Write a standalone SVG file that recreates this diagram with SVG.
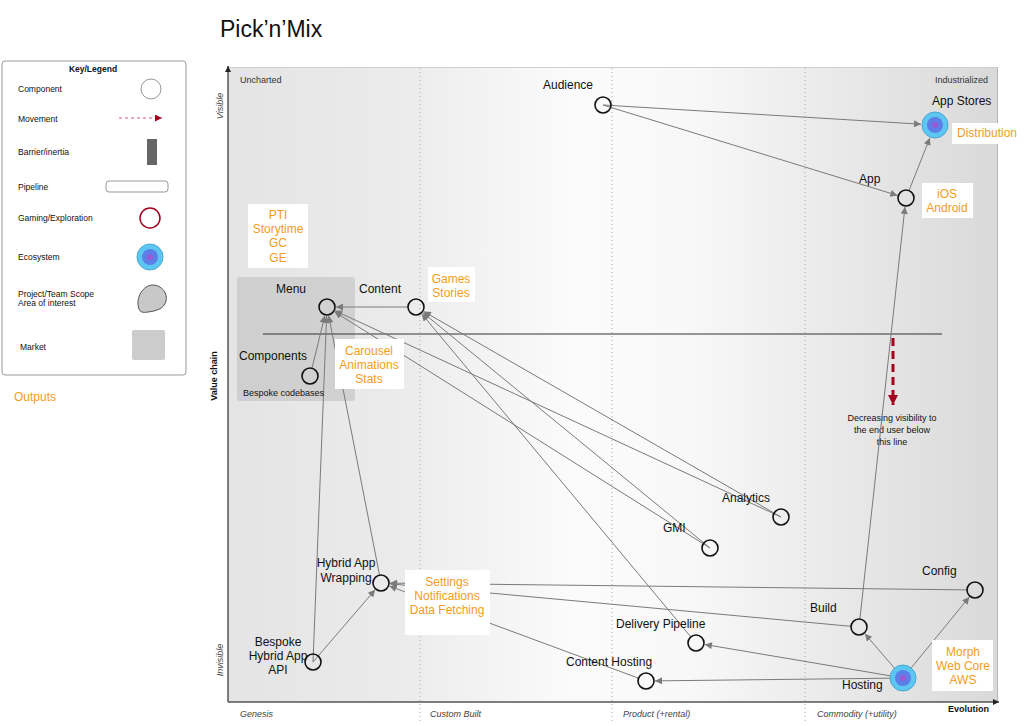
<svg xmlns="http://www.w3.org/2000/svg" width="1024" height="726" viewBox="0 0 1024 726">
<defs>
<linearGradient id="bg" x1="0" y1="0" x2="1" y2="0">
<stop offset="0" stop-color="#e4e4e4"/>
<stop offset="0.22" stop-color="#ebebeb"/>
<stop offset="0.45" stop-color="#fbfbfb"/>
<stop offset="0.6" stop-color="#f8f8f8"/>
<stop offset="1" stop-color="#d9d9d9"/>
</linearGradient>
<marker id="ah" viewBox="0 0 10 10" refX="10" refY="5" markerUnits="userSpaceOnUse" markerWidth="9" markerHeight="7" orient="auto">
<path d="M0,0 L10,5 L0,10 z" fill="#7a7a7a"/>
</marker>
<marker id="axh" viewBox="0 0 10 10" refX="10" refY="5" markerUnits="userSpaceOnUse" markerWidth="8" markerHeight="6" orient="auto">
<path d="M0,0 L10,5 L0,10 z" fill="#222"/>
</marker>
<marker id="rh" viewBox="0 0 10 10" refX="10" refY="5" markerUnits="userSpaceOnUse" markerWidth="11" markerHeight="10" orient="auto">
<path d="M0,0 L10,5 L0,10 z" fill="#a5001e"/>
</marker>
<marker id="rhs" viewBox="0 0 10 10" refX="10" refY="5" markerUnits="userSpaceOnUse" markerWidth="7" markerHeight="7" orient="auto">
<path d="M0,0 L10,5 L0,10 z" fill="#a5001e"/>
</marker>
</defs>
<style>
text{font-family:"Liberation Sans",Arial,Helvetica,sans-serif;fill:#111}
.lg{font-size:8.5px}
.ax{font-size:9px;font-style:italic;fill:#444}
.nl{font-size:12px}
.or{font-size:12px;fill:#f49b22;text-anchor:middle}
.box{fill:#ffffff}
.node{fill:none;stroke:#111;stroke-width:1.6}
.con{stroke:#7a7a7a;stroke-width:1;fill:none;marker-end:url(#ah)}
.dot{stroke:#a8a8a8;stroke-width:1;stroke-dasharray:1 3}
.eo{fill:#5cc8f2;stroke:#4aa6d6;stroke-width:1}
.em{fill:#5b7fe6}
.ei{fill:#9a5ad6}
</style>
<rect width="1024" height="726" fill="#ffffff"/>

<text x="220" y="37" style="font-size:23px">Pick’n’Mix</text>

<g id="legend">
<rect x="2" y="61" width="184" height="314" rx="3" fill="#fff" stroke="#999" stroke-width="1"/>
<text x="93" y="72" class="lg" text-anchor="middle" font-weight="bold">Key/Legend</text>
<text x="18" y="92" class="lg">Component</text>
<circle cx="151" cy="89" r="10" fill="#fff" stroke="#999" stroke-width="1"/>
<text x="18" y="122" class="lg">Movement</text>
<line x1="119" y1="118" x2="162" y2="118" stroke="#d0607a" stroke-width="1.2" stroke-dasharray="3 3" marker-end="url(#rhs)"/>
<text x="18" y="155" class="lg">Barrier/inertia</text>
<rect x="147" y="139" width="10" height="26" fill="#666"/>
<text x="18" y="190" class="lg">Pipeline</text>
<rect x="106" y="181" width="62" height="11" rx="3" fill="#fff" stroke="#999"/>
<text x="18" y="221" class="lg">Gaming/Exploration</text>
<circle cx="150" cy="218" r="10" fill="#fff" stroke="#a5001e" stroke-width="1.5"/>
<text x="18" y="260" class="lg">Ecosystem</text>
<circle cx="150" cy="257" r="13" class="eo"/>
<circle cx="150" cy="257" r="8" class="em"/>
<circle cx="150" cy="257" r="3" class="ei"/>
<text x="18" y="297" class="lg">Project/Team Scope</text>
<text x="18" y="306" class="lg">Area of interest</text>
<path d="M139,309 C135,298 143,285 153,285 C162,285 168,294 166,301 C164,309 156,311 148,312 C143,313 140,312 139,309 Z" fill="#c8c8c8" stroke="#555" stroke-width="1"/>
<text x="20" y="350" class="lg">Market</text>
<rect x="132" y="330" width="33" height="30" rx="2" fill="#cccccc"/>
</g>
<text x="14" y="401" style="font-size:12px;fill:#f49b22">Outputs</text>

<g id="map">
<rect x="228" y="67" width="770" height="635" fill="url(#bg)"/>
<line x1="228" y1="67.5" x2="998" y2="67.5" stroke="#cfcfcf" stroke-width="1"/>
<line x1="997.5" y1="67" x2="997.5" y2="702" stroke="#b5b5b5" stroke-width="1"/>
<line x1="420" y1="68" x2="420" y2="722" class="dot"/>
<line x1="612" y1="68" x2="612" y2="722" class="dot"/>
<line x1="805" y1="68" x2="805" y2="722" class="dot"/>
<rect x="237" y="277" width="118" height="124" rx="3" fill="#bdbdbd" fill-opacity="0.55"/>
<line x1="263" y1="334" x2="942" y2="334" stroke="#333" stroke-width="1"/>
<line x1="228" y1="702" x2="228" y2="66" stroke="#555" stroke-width="1.5" marker-end="url(#axh)"/>
<line x1="228" y1="702" x2="999" y2="702" stroke="#555" stroke-width="1.5" marker-end="url(#axh)"/>
<text x="240" y="83" style="font-size:9px;fill:#333">Uncharted</text>
<text x="988" y="83" style="font-size:9px;fill:#333" text-anchor="end">Industrialized</text>
<text x="240" y="717" class="ax">Genesis</text>
<text x="430" y="717" class="ax">Custom Built</text>
<text x="623" y="717" class="ax">Product (+rental)</text>
<text x="817" y="717" class="ax">Commodity (+utility)</text>
<text x="948" y="712" style="font-size:9px;font-weight:bold">Evolution</text>
<text transform="translate(217,376) rotate(-90)" text-anchor="middle" style="font-size:9px;font-weight:bold">Value chain</text>
<text transform="translate(223,106) rotate(-90)" text-anchor="middle" class="ax">Visible</text>
<text transform="translate(223,660) rotate(-90)" text-anchor="middle" class="ax">Invisible</text>
<line x1="893" y1="338" x2="893" y2="405" stroke="#a5001e" stroke-width="3" stroke-dasharray="8 5" marker-end="url(#rh)"/>
<text x="892" y="421" text-anchor="middle" style="font-size:9px">Decreasing visibility to</text>
<text x="892" y="433" text-anchor="middle" style="font-size:9px">the end user below</text>
<text x="892" y="445" text-anchor="middle" style="font-size:9px">this line</text>
</g>

<g id="connectors">
<line class="con" x1="603" y1="105" x2="921" y2="124.2"/>
<line class="con" x1="603" y1="105" x2="897.4" y2="195.4"/>
<line class="con" x1="909" y1="190.6" x2="929.8" y2="138"/>
<line class="con" x1="408" y1="307" x2="336" y2="307"/>
<line class="con" x1="312" y1="368.2" x2="324.8" y2="315.7"/>
<line class="con" x1="313" y1="662" x2="326.6" y2="316"/>
<line class="con" x1="379.5" y1="575" x2="328.7" y2="315.8"/>
<line class="con" x1="313" y1="662" x2="375.1" y2="589.8"/>
<line class="con" x1="781" y1="517" x2="335.2" y2="310.8"/>
<line class="con" x1="781" y1="517" x2="423.8" y2="311.5"/>
<line class="con" x1="710" y1="548" x2="334.6" y2="311.8"/>
<line class="con" x1="710" y1="548" x2="423" y2="312.7"/>
<line class="con" x1="690.9" y1="636.9" x2="421.8" y2="313.9"/>
<line class="con" x1="967" y1="589.9" x2="390" y2="583.1"/>
<line class="con" x1="851" y1="626.3" x2="390" y2="583.8"/>
<line class="con" x1="638.5" y1="678.2" x2="389.4" y2="586.1"/>
<line class="con" x1="859.9" y1="619" x2="905" y2="206.9"/>
<line class="con" x1="894.5" y1="668.2" x2="864.9" y2="633.8"/>
<line class="con" x1="911.2" y1="667.9" x2="969.3" y2="597"/>
<line class="con" x1="890.2" y1="675.8" x2="704.9" y2="644.5"/>
<line class="con" x1="890" y1="678.2" x2="655" y2="680.9"/>
</g>

<g id="audience"><circle class="node" cx="603" cy="105" r="8"/><text class="nl" x="543" y="89">Audience</text></g>
<g id="app-stores"><circle class="eo" cx="935" cy="125" r="13"/><circle class="em" cx="935" cy="125" r="8"/><circle class="ei" cx="935" cy="125" r="3"/><text class="nl" x="932" y="105">App Stores</text></g>
<g id="app"><circle class="node" cx="906" cy="198" r="8"/><text class="nl" x="859" y="183">App</text></g>
<g id="menu"><circle class="node" cx="327" cy="307" r="8"/><text class="nl" x="276" y="293">Menu</text></g>
<g id="content"><circle class="node" cx="416" cy="307" r="8"/><text class="nl" x="359" y="293">Content</text></g>
<g id="components"><circle class="node" cx="310" cy="376" r="8"/><text class="nl" x="239" y="360">Components</text><text x="243" y="396" style="font-size:9px">Bespoke codebases</text></g>
<g id="analytics"><circle class="node" cx="781" cy="517" r="8"/><text class="nl" x="722" y="502">Analytics</text></g>
<g id="gmi"><circle class="node" cx="710" cy="548" r="8"/><text class="nl" x="663" y="532">GMI</text></g>
<g id="hybrid-app-wrapping"><circle class="node" cx="381" cy="583" r="8"/><text class="nl" x="346" y="567" text-anchor="middle">Hybrid App</text><text class="nl" x="346" y="582" text-anchor="middle">Wrapping</text></g>
<g id="bespoke-hybrid-app-api"><circle class="node" cx="313" cy="662" r="8"/><text class="nl" x="278" y="646" text-anchor="middle">Bespoke</text><text class="nl" x="278" y="660" text-anchor="middle">Hybrid App</text><text class="nl" x="278" y="674" text-anchor="middle">API</text></g>
<g id="config"><circle class="node" cx="975" cy="590" r="8"/><text class="nl" x="922" y="575">Config</text></g>
<g id="build"><circle class="node" cx="859" cy="627" r="8"/><text class="nl" x="810" y="612">Build</text></g>
<g id="delivery-pipeline"><circle class="node" cx="696" cy="643" r="8"/><text class="nl" x="616" y="628">Delivery Pipeline</text></g>
<g id="content-hosting"><circle class="node" cx="646" cy="681" r="8"/><text class="nl" x="566" y="666">Content Hosting</text></g>
<g id="hosting"><circle class="eo" cx="903" cy="678" r="13"/><circle class="em" cx="903" cy="678" r="8"/><circle class="ei" cx="903" cy="678" r="3"/><text class="nl" x="842" y="689">Hosting</text></g>

<g id="label-pti">
<rect class="box" x="248" y="204" width="60" height="64"/>
<text class="or" x="278" y="219">PTI</text><text class="or" x="278" y="233">Storytime</text><text class="or" x="278" y="247">GC</text><text class="or" x="278" y="262">GE</text>
</g>
<g id="label-games">
<rect class="box" x="428" y="267" width="47" height="35"/>
<text class="or" x="451" y="283">Games</text><text class="or" x="451" y="297">Stories</text>
</g>
<g id="label-carousel">
<rect class="box" x="335" y="339" width="69" height="50"/>
<text class="or" x="369" y="355">Carousel</text><text class="or" x="369" y="369">Animations</text><text class="or" x="369" y="383">Stats</text>
</g>
<g id="label-distribution">
<rect class="box" x="952" y="123" width="68" height="21"/>
<text class="or" x="987" y="137">Distribution</text>
</g>
<g id="label-ios">
<rect class="box" x="922" y="183" width="51" height="35"/>
<text class="or" x="947" y="198">iOS</text><text class="or" x="947" y="212">Android</text>
</g>
<g id="label-settings">
<rect class="box" x="405" y="570" width="85" height="65"/>
<text class="or" x="447" y="586">Settings</text><text class="or" x="447" y="600">Notifications</text><text class="or" x="447" y="614">Data Fetching</text>
</g>
<g id="label-morph">
<rect class="box" x="932" y="640" width="61" height="51"/>
<text class="or" x="963" y="656">Morph</text><text class="or" x="963" y="670">Web Core</text><text class="or" x="963" y="684">AWS</text>
</g>
</svg>
